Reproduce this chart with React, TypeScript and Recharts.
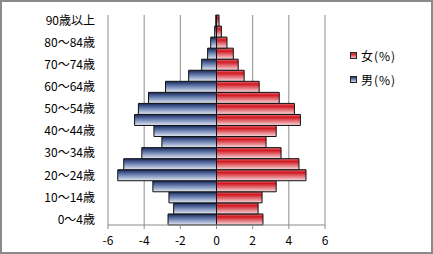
import { BarChart, Bar, CartesianGrid, XAxis, YAxis } from "recharts";

// bottom (0~4) to top (90+)
const ageGroups = [
  "0～4歳",
  "5～9歳",
  "10～14歳",
  "15～19歳",
  "20～24歳",
  "25～29歳",
  "30～34歳",
  "35～39歳",
  "40～44歳",
  "45～49歳",
  "50～54歳",
  "55～59歳",
  "60～64歳",
  "65～69歳",
  "70～74歳",
  "75～79歳",
  "80～84歳",
  "85～89歳",
  "90歳以上"
];

const malePct = [
  -2.68, -2.37, -2.63, -3.52, -5.46, -5.13, -4.13, -3.02, -3.46, -4.53,
  -4.32, -3.76, -2.82, -1.54, -0.82, -0.49, -0.32, -0.1, -0.04
];

const femalePct = [
  2.57, 2.3, 2.52, 3.3, 4.95, 4.56, 3.57, 2.74, 3.3, 4.64,
  4.31, 3.47, 2.36, 1.53, 1.2, 0.93, 0.58, 0.27, 0.14
];

const xTicks = [-6, -4, -2, 0, 2, 4, 6];

const legendItems = [
  { label: "女(%)", fill: "url(#femaleGrad)" },
  { label: "男(%)", fill: "url(#maleGrad)" }
];

const rows = ageGroups.map((age, i) => ({
  age,
  male: malePct[i],
  female: femalePct[i]
}));

const font = "'Noto Sans CJK JP', 'Noto Sans', sans-serif";

function LegendBox() {
  return (
    <div style={{ position: "absolute", left: 350, top: 43, fontFamily: font, fontSize: 12, color: "#000" }}>
      {legendItems.map((item) => (
        <div key={item.label} style={{ display: "flex", alignItems: "center", height: 24 }}>
          <svg width={7} height={7} style={{ marginRight: 4 }}>
            <rect x={0.5} y={0.5} width={6} height={6} fill={item.fill} stroke="#222" />
          </svg>
          <span style={{ letterSpacing: 1 }}>{item.label}</span>
        </div>
      ))}
    </div>
  );
}

export default function App() {
  return (
    <div style={{ position: "absolute", left: 0, top: 0, width: 433, height: 254, background: "#fff" }}>
      <BarChart
        width={433}
        height={254}
        data={rows}
        layout="vertical"
        stackOffset="sign"
        barCategoryGap={0}
        margin={{ top: 15, right: 108, bottom: 0, left: 0 }}
      >
        <defs>
          <linearGradient id="maleGrad" x1="0" y1="0" x2="0" y2="1">
            <stop offset="0%" stopColor="#16275c" />
            <stop offset="45%" stopColor="#6a80b0" />
            <stop offset="100%" stopColor="#e4e9f3" />
          </linearGradient>
          <linearGradient id="femaleGrad" x1="0" y1="0" x2="0" y2="1">
            <stop offset="0%" stopColor="#e27880" />
            <stop offset="25%" stopColor="#d2161f" />
            <stop offset="100%" stopColor="#f6dcdf" />
          </linearGradient>
        </defs>
        <CartesianGrid horizontal={false} stroke="#8c8c8c" />
        <XAxis
          type="number"
          domain={[-6, 6]}
          ticks={xTicks}
          height={29}
          stroke="#8c8c8c"
          tickSize={4}
          tickMargin={7}
          tick={{ fill: "#000", fontSize: 12, fontFamily: font }}
        />
        <YAxis
          type="category"
          dataKey="age"
          reversed
          width={108}
          interval={1}
          axisLine={false}
          tickLine={false}
          tickSize={0}
          tickMargin={13}
          tick={{ fill: "#000", fontSize: 12, fontFamily: font }}
        />
        <Bar dataKey="male" stackId="a" fill="url(#maleGrad)" stroke="#111" strokeWidth={1} isAnimationActive={false} />
        <Bar dataKey="female" stackId="a" fill="url(#femaleGrad)" stroke="#111" strokeWidth={1} isAnimationActive={false} />
      </BarChart>
      <LegendBox />
      <div
        style={{
          position: "absolute",
          left: 0,
          top: 0,
          width: 433,
          height: 254,
          boxSizing: "border-box",
          border: "2px solid #8a8a8a",
          pointerEvents: "none"
        }}
      />
    </div>
  );
}
